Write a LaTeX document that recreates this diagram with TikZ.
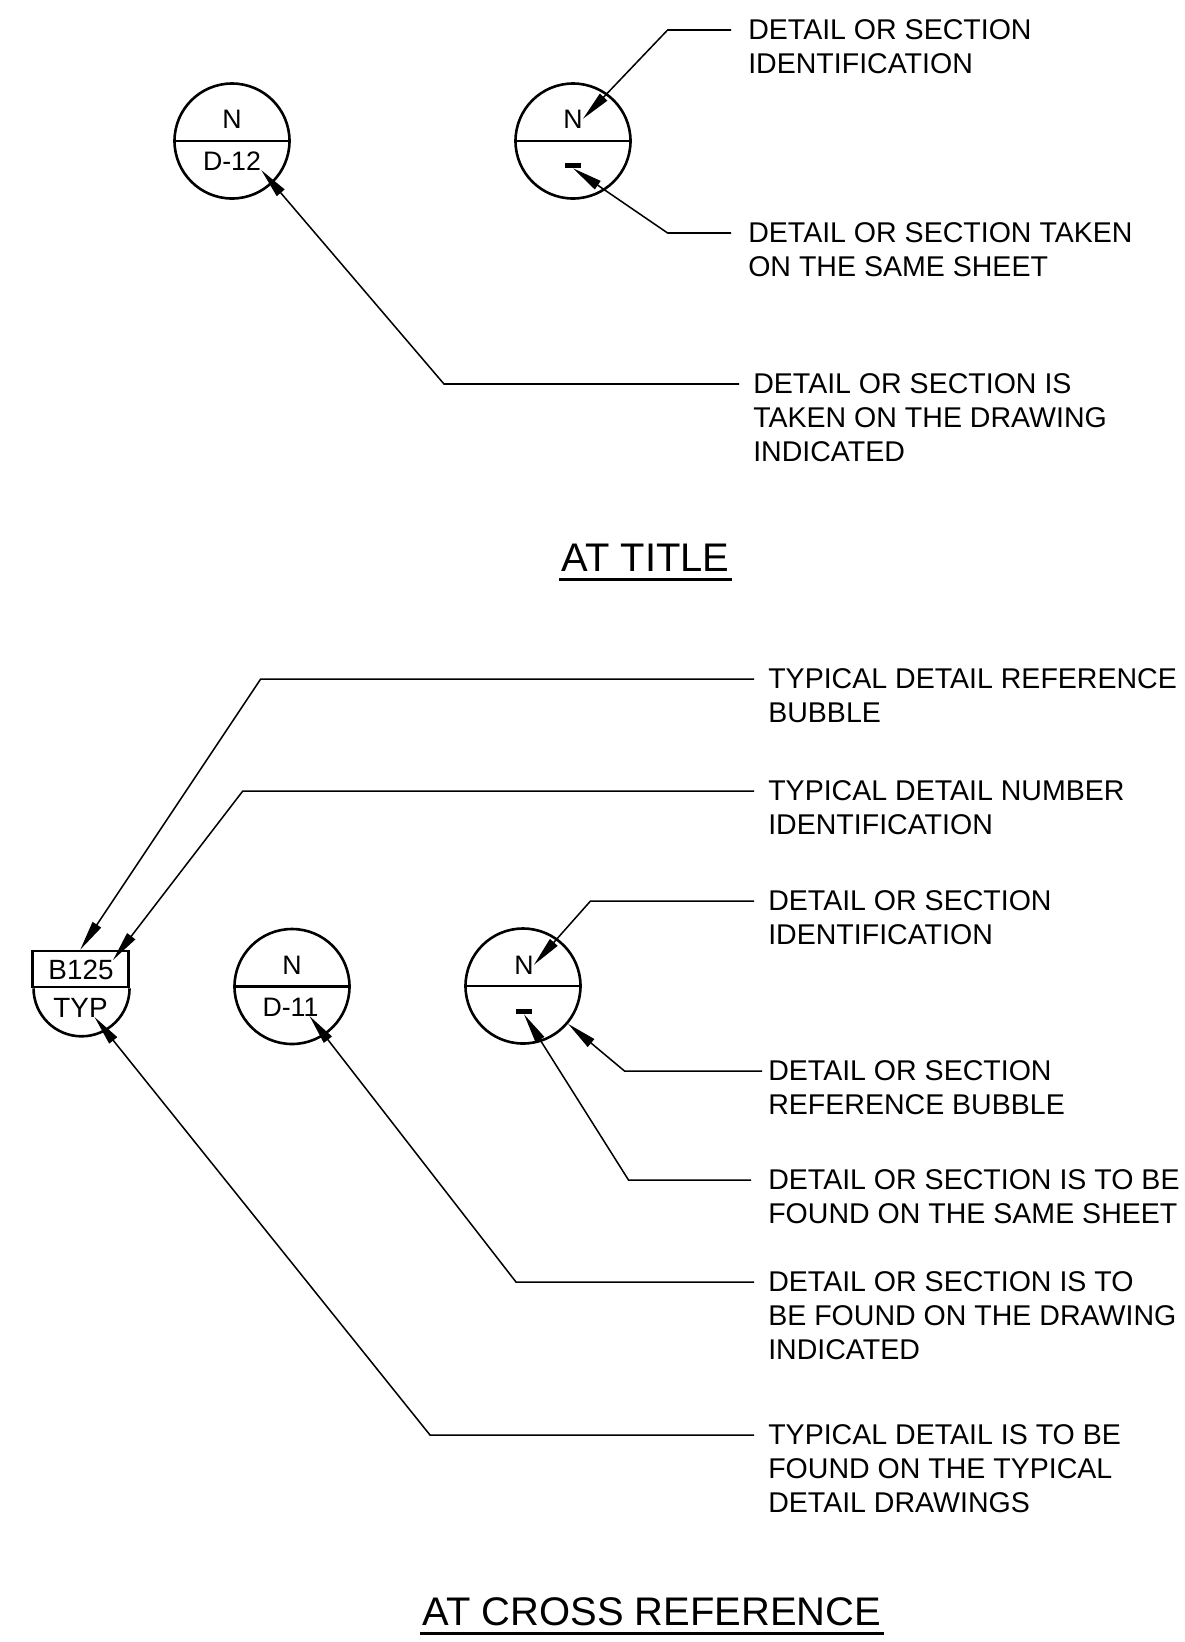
\documentclass[tikz,border=0pt]{standalone}
\usepackage{fontspec}
\setmainfont{Liberation Sans}
\usetikzlibrary{arrows.meta,calc}
\usepackage{tkz-euclide}

\begin{document}
\begin{tikzpicture}[x=0.25mm,y=-0.25mm,
  bub/.style={draw,circle,line width=0.65mm,minimum size=28.75mm,inner sep=0pt},
  sep/.style={line width=0.65mm},
  ldr/.style={line width=0.38mm,-{Triangle[length=7.5mm,width=2.5mm]}},
  lbl/.style={anchor=north west,inner sep=0pt,align=left,font=\fontsize{20.3}{24}\selectfont},
  btx/.style={anchor=base,inner sep=0pt,font=\fontsize{19}{22}\selectfont},
  ttl/.style={anchor=base,inner sep=0pt,font=\fontsize{28.4}{32}\selectfont}]
\useasboundingbox (0,0) rectangle (1184,1642);

\tkzDefPoints{232/141/A,573/141/B,292/986.5/C,523/986/D}

% at title
\node[bub] (bA) at (A) {};
\draw[sep] (bA.west) -- (bA.east);
\node[btx] (nA) at (232,128) {N};
\node[btx] (dA) at (232,170) {D-12};

\node[bub] (bB) at (B) {};
\draw[sep] (bB.west) -- (bB.east);
\node[btx] (nB) at (573,128) {N};
\node[fill,inner sep=0pt,minimum width=4mm,minimum height=1.25mm] (mB) at (573,165.5) {};

\node[lbl] (tB1) at (748,19.5) {DETAIL OR SECTION\\IDENTIFICATION};
\node[lbl] (tB2) at (748,222.5) {DETAIL OR SECTION TAKEN\\ON THE SAME SHEET};
\node[lbl] (tA1) at (753,373.5) {DETAIL OR SECTION IS\\TAKEN ON THE DRAWING\\INDICATED};

\tkzDefPoints{731/30/P1,667.6/30/Q1,731/233/P2,667.6/233/Q2,739/384/P3,444/384/Q3}
\draw[ldr] (P1) -- (Q1) -- (nB.east);
\draw[ldr] (P2) -- (Q2) -- (mB.south);
\draw[ldr] (P3) -- (Q3) -- (dA.base east);

\node[ttl] (ttA) at (645.5,571) {AT TITLE};
\draw[line width=0.75mm] ([shift={(-2,8)}]ttA.base west) -- ([shift={(2,8)}]ttA.base east);

% at cross reference
\node[draw,line width=0.65mm,minimum width=24mm,minimum height=9mm,inner sep=0pt] (tb) at (80.25,969) {};
\draw[sep] (tb.south east) arc[start angle=0,end angle=180,radius=48];
\node[btx,font=\fontsize{19.8}{22}\selectfont] (tbB) at (81,979) {B125};
\node[btx,font=\fontsize{19.8}{22}\selectfont] (tbT) at (80.5,1017) {TYP};

\node[bub] (bC) at (C) {};
\draw[sep] (bC.west) -- (bC.east);
\node[btx] (nC) at (292,974) {N};
\node[btx] (dC) at (290.5,1016) {D-11};

\node[bub] (bD) at (D) {};
\draw[sep] (bD.west) -- (bD.east);
\node[btx] (nD) at (524,974) {N};
\node[fill,inner sep=0pt,minimum width=4mm,minimum height=1.25mm] (mD) at (524,1011.5) {};

\node[lbl] (tC1) at (768,668.5) {TYPICAL DETAIL REFERENCE\\BUBBLE};
\node[lbl] (tC2) at (768,780.5) {TYPICAL DETAIL NUMBER\\IDENTIFICATION};
\node[lbl] (tC3) at (768,890.5) {DETAIL OR SECTION\\IDENTIFICATION};
\node[lbl] (tC4) at (768,1060.5) {DETAIL OR SECTION\\REFERENCE BUBBLE};
\node[lbl] (tC5) at (768,1169.5) {DETAIL OR SECTION IS TO BE\\FOUND ON THE SAME SHEET};
\node[lbl] (tC6) at (768,1271.5) {DETAIL OR SECTION IS TO\\BE FOUND ON THE DRAWING\\INDICATED};
\node[lbl] (tC7) at (768,1424.5) {TYPICAL DETAIL IS TO BE\\FOUND ON THE TYPICAL\\DETAIL DRAWINGS};

\tkzDefPoints{754/679/P4,260.7/679/Q4,754/791/P5,242.8/791/Q5,754/901/P6,590.5/901/Q6,
  762/1071/P7,624.5/1071/Q7,751/1180/P8,628.5/1180/Q8,754/1282/P9,516/1282/Q9,
  754/1435/P10,430/1435/Q10,113/960/R5,309.5/1016/R9,94.5/1017/R10}
\draw[ldr] (P4) -- (Q4) -- (tb.north);
\draw[ldr] (P5) -- (Q5) -- (R5);
\draw[ldr] (P6) -- (Q6) -- (nD.east);
\draw[ldr] (P7) -- (Q7) -- (bD.-40);
\draw[ldr] (P8) -- (Q8) -- (mD.south);
\draw[ldr] (P9) -- (Q9) -- (R9);
\draw[ldr] (P10) -- (Q10) -- (R10);

\node[ttl] (ttB) at (652,1625) {AT CROSS REFERENCE};
\draw[line width=0.75mm] ([shift={(-2,8)}]ttB.base west) -- ([shift={(2,8)}]ttB.base east);
\end{tikzpicture}
\end{document}
